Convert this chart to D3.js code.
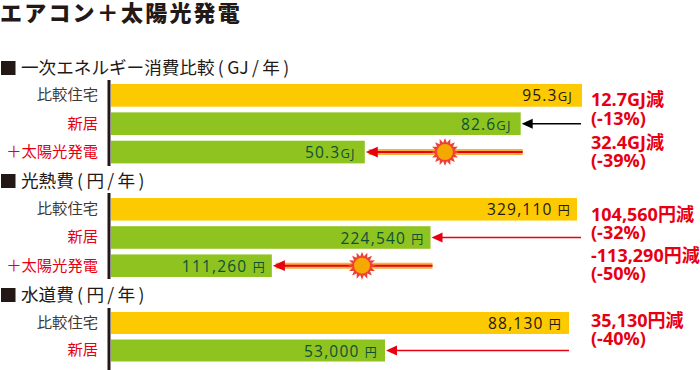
<!DOCTYPE html>
<html>
<head>
<meta charset="utf-8">
<script src="https://cdn.jsdelivr.net/npm/d3@7"></script>
<style>
  html, body { margin: 0; padding: 0; background: #fff; }
  svg { display: block; }
  text { font-family: "Noto Sans CJK JP", "Open Sans", sans-serif; }
  .val { font-family: "Open Sans", "Noto Sans CJK JP", sans-serif; letter-spacing: 1.2px; }
  .note { font-family: "Open Sans", "Noto Sans CJK JP", sans-serif; font-weight: 700; }
</style>
</head>
<body>
<div id="my_dataviz"></div>
<script>
// data
var title = "エアコン＋太陽光発電";
var categories = ["比較住宅", "新居", "＋太陽光発電"];

var energyValues = [95.3, 82.6, 50.3];
var heatValues = [329110, 224540, 111260];
var waterValues = [88130, 53000];

var energyNotes = ["12.7GJ減", "(-13%)", "32.4GJ減", "(-39%)"];
var heatNotes = ["104,560円減", "(-32%)", "-113,290円減", "(-50%)"];
var waterNotes = ["35,130円減", "(-40%)"];

var width = 700, height = 370;
var yellow = "#fdc900", green = "#8fc31f", red = "#e60012", ink = "#231815";

var svg = d3.select("#my_dataviz")
  .append("svg")
    .attr("width", width)
    .attr("height", height);

svg.append("text")
  .attr("x", 0)
  .attr("y", 21)
  .style("font-size", "22px")
  .style("font-weight", 900)
  .style("letter-spacing", "2.2px")
  .attr("fill", ink)
  .text(title);

// one block per measure, the bars are not quite proportional in the original
// so each block gets its own x range
var panels = [
  {head: "一次エネルギー消費比較 ( GJ / 年 )", headY: 74, values: energyValues, notes: energyNotes, noteY: [106, 125, 149, 167],
   xRange: [122, 582], yRange: [84, 163.4], axisY: [80, 166], unit: "GJ", unitSize: "13px", gap: "", fmt: d3.format(".1f"), sunX: 445, inset: 9, endX: 581},
  {head: "光熱費 ( 円 / 年 )", headY: 187, values: heatValues, notes: heatNotes, noteY: [221, 239, 262, 280],
   xRange: [116, 577], yRange: [198, 277], axisY: [193, 279], unit: "円", unitSize: "12px", gap: " ", fmt: d3.format(","), sunX: 362, inset: 6, endX: 581},
  {head: "水道費 ( 円 / 年 )", headY: 301, values: waterValues, notes: waterNotes, noteY: [327, 345],
   xRange: [107.4, 569], yRange: [312, 361.5], axisY: [308, 370], unit: "円", unitSize: "12px", gap: " ", fmt: d3.format(","), inset: 7, endX: 569}
];

// small star shape for the sun
var sunPoints = d3.range(32).map(function(i) {
  return [i / 32 * 2 * Math.PI, i % 2 ? 9.5 : 14];
});
var sunPath = d3.lineRadial().curve(d3.curveLinearClosed)(sunPoints);

function arrowHead(g, x, y, size, color) {
  g.append("path")
    .attr("d", d3.line()([[x, y], [x + size, y - size * 0.45], [x + size, y + size * 0.45]]) + "Z")
    .attr("fill", color);
}

panels.forEach(function(p) {
  var g = svg.append("g");
  var cats = categories.slice(0, p.values.length);

  var x = d3.scaleLinear()
    .domain([0, d3.max(p.values)])
    .range(p.xRange);

  var y = d3.scaleBand()
    .domain(cats)
    .range(p.yRange)
    .paddingInner(0.2);

  // section heading
  g.append("rect")
    .attr("x", 1).attr("y", p.headY - 13)
    .attr("width", 14.5).attr("height", 14)
    .attr("fill", ink);
  g.append("text")
    .attr("x", 21)
    .attr("y", p.headY)
    .style("font-size", "17.6px")
    .style("word-spacing", "-0.6px")
    .attr("fill", ink)
    .text(p.head);

  // bars
  g.selectAll("rect.bar")
    .data(p.values)
    .enter()
    .append("rect")
      .attr("class", "bar")
      .attr("x", 111)
      .attr("y", function(d, i) { return y(cats[i]); })
      .attr("width", function(d) { return x(d) - 111; })
      .attr("height", y.bandwidth())
      .attr("fill", function(d, i) { return i === 0 ? yellow : green; });

  // category labels
  var axis = g.append("g")
    .attr("transform", "translate(98,0)")
    .call(d3.axisLeft(y).tickSize(0).tickPadding(0));
  axis.select(".domain").remove();
  axis.selectAll(".tick text")
    .style("font-family", '"Noto Sans CJK JP", sans-serif')
    .style("font-size", "15.3px")
    .attr("fill", function(d) { return d === categories[0] ? "#3e3a39" : red; });

  // thick baseline
  g.append("line")
    .attr("x1", 109).attr("x2", 109)
    .attr("y1", p.axisY[0]).attr("y2", p.axisY[1])
    .attr("stroke", ink)
    .attr("stroke-width", 3);

  // value labels inside the bars
  var labels = g.selectAll("text.val")
    .data(p.values)
    .enter()
    .append("text")
      .attr("class", "val")
      .attr("x", function(d) { return x(d) - p.inset; })
      .attr("y", function(d, i) { return y(cats[i]) + y.bandwidth() / 2 + 6; })
      .attr("text-anchor", "end")
      .style("font-size", "15.5px")
      .attr("fill", function(d, i) { return i === 0 ? ink : "#0b5137"; });
  labels.append("tspan").text(function(d) { return p.fmt(d) + p.gap; });
  labels.append("tspan").style("font-size", p.unitSize).text(p.unit);

  // arrow from the reference bar to the new house bar
  var y1 = y(cats[1]) + y.bandwidth() / 2;
  var lineColor = p.unit === "GJ" ? "#000" : red;
  g.append("line")
    .attr("x1", p.endX).attr("x2", x(p.values[1]) + 6)
    .attr("y1", y1).attr("y2", y1)
    .attr("stroke", lineColor)
    .attr("stroke-width", 1.4);
  arrowHead(g, x(p.values[1]) + 1, y1, 11, lineColor);

  // solar arrow
  if (p.values.length > 2) {
    var y2 = y(cats[2]) + y.bandwidth() / 2;
    g.append("line")
      .attr("x1", x(p.values[1]) + 2).attr("x2", x(p.values[2]) + 4)
      .attr("y1", y2).attr("y2", y2)
      .attr("stroke", "#fbb03b")
      .attr("stroke-width", 6);
    g.append("line")
      .attr("x1", x(p.values[1]) + 2).attr("x2", x(p.values[2]) + 6)
      .attr("y1", y2).attr("y2", y2)
      .attr("stroke", red)
      .attr("stroke-width", 2);
    arrowHead(g, x(p.values[2]) + 1, y2, 12, red);
    g.append("path")
      .attr("transform", "translate(" + p.sunX + "," + y2 + ")")
      .attr("d", sunPath)
      .attr("fill", "#ee4035");
    g.append("circle")
      .attr("cx", p.sunX).attr("cy", y2).attr("r", 8)
      .attr("fill", "#f5a800");
  }

  // red notes on the right
  g.selectAll("text.note")
    .data(p.notes)
    .enter()
    .append("text")
      .attr("class", "note")
      .attr("x", 591)
      .attr("y", function(d, i) { return p.noteY[i]; })
      .style("font-size", "18px")
      .attr("fill", red)
      .text(function(d) { return d; });
});
</script>
</body>
</html>
